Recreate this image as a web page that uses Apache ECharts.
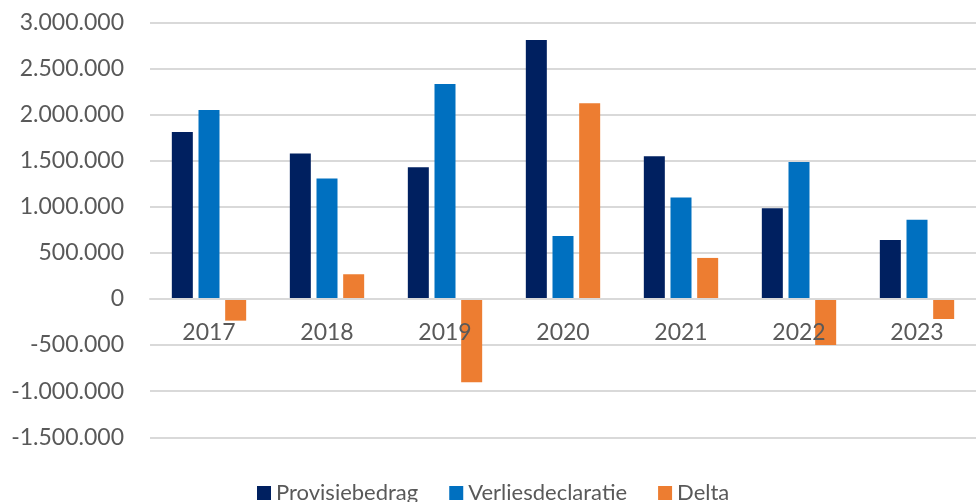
<!DOCTYPE html>
<html>
<head>
<meta charset="utf-8">
<script src="https://cdn.jsdelivr.net/npm/echarts@6/dist/echarts.min.js"></script>
<style>
html,body{margin:0;padding:0;background:#fff;}
#chart{width:976px;height:502px;}
</style>
</head>
<body>
<div id="chart"></div>
<script>
const categories = ['2017','2018','2019','2020','2021','2022','2023'];
const provisiebedrag = [1811000, 1576000, 1428000, 2809000, 1548000, 984000, 640000];
const verliesdeclaratie = [2050000, 1305000, 2332000, 683000, 1099000, 1486000, 860000];
const delta = [-235000, 268000, -904000, 2122000, 445000, -499000, -217000];
const seriesNames = ['Provisiebedrag','Verliesdeclaratie','Delta'];
const yTicks = {min: -1500000, max: 3000000, interval: 500000};

function fmt(v){
  const neg = v < 0;
  const s = Math.abs(Math.round(v)).toString().replace(/\B(?=(\d{3})+(?!\d))/g, '.');
  return (neg ? '-' : '') + s;
}

const FONT = 'Lato';
const chart = echarts.init(document.getElementById('chart'), null, {renderer:'canvas'});
const colors = ['#002060','#0070C0','#ED7D31'];
const barW = 21;
const gridTop = 22.3, gridBottom = 64.7, chartH = 502;
// distance from bottom of plot to the zero line (derived from scale)
const plotH = chartH - gridTop - gridBottom;
const zeroOffset = plotH * (0 - yTicks.min) / (yTicks.max - yTicks.min);
chart.setOption({
  animation: false,
  color: colors,
  grid: {left: 150, right: 0, top: gridTop, bottom: gridBottom, containLabel: false},
  legend: {
    data: seriesNames,
    left: 257, top: 482, padding: 0,
    itemWidth: 14, itemHeight: 14, itemGap: 31,
    icon: 'rect',
    textStyle: {fontFamily: FONT, fontSize: 22, color: '#595959'}
  },
  xAxis: {
    type: 'category',
    data: categories,
    z: 5,
    offset: -zeroOffset,
    axisLine: {onZero: false, lineStyle: {color: '#d9d9d9', width: 2}},
    axisTick: {show: false},
    axisLabel: {fontFamily: FONT, fontSize: 23, color: '#595959', margin: 22}
  },
  yAxis: {
    type: 'value',
    min: yTicks.min, max: yTicks.max, interval: yTicks.interval,
    axisLine: {show: false},
    axisTick: {show: false},
    splitLine: {lineStyle: {color: '#d9d9d9', width: 2}},
    axisLabel: {fontFamily: FONT, fontSize: 23, color: '#595959', margin: 26, formatter: fmt}
  },
  series: [
    {name: seriesNames[0], type: 'bar', data: provisiebedrag, barWidth: barW, barGap: '27%'},
    {name: seriesNames[1], type: 'bar', data: verliesdeclaratie, barWidth: barW, barGap: '27%'},
    {name: seriesNames[2], type: 'bar', data: delta, barWidth: barW, barGap: '27%'}
  ]
});
</script>
</body>
</html>
